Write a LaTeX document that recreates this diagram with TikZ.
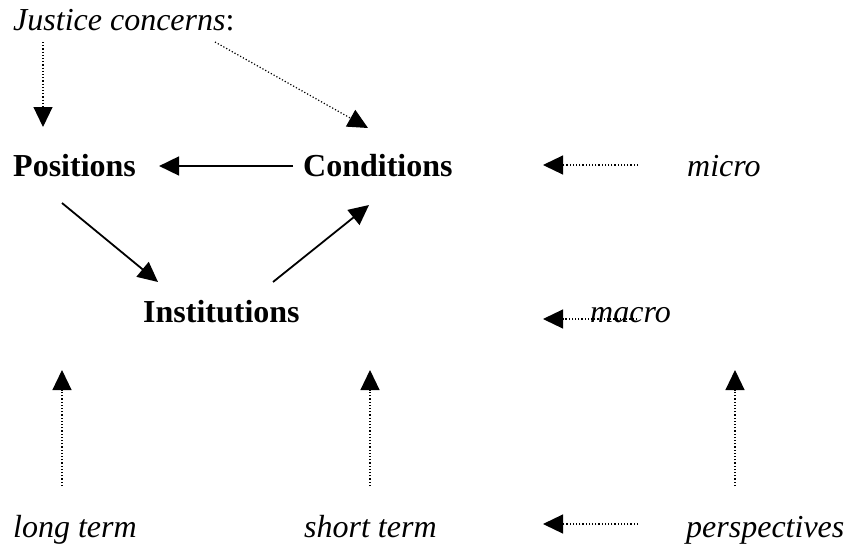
\documentclass[tikz,border=0pt]{standalone}
\usepackage{fontspec}
\setmainfont{Liberation Serif}
\usetikzlibrary{arrows.meta}

\begin{document}
\begin{tikzpicture}[x=1pt,y=-1pt,
  lbl/.style={inner sep=0pt,anchor=base west,font=\fontsize{32}{38}\selectfont},
  key/.style={lbl,font=\fontsize{32}{38}\selectfont\bfseries},
  note/.style={lbl,font=\fontsize{32}{38}\selectfont\itshape},
  flow/.style={line width=1.8pt,-{Triangle[length=20pt,width=19pt]}},
  hint/.style={line width=1.2pt,dotted,-{Triangle[length=20pt,width=19pt]}}]
\useasboundingbox (0,0) rectangle (848,546);

% Concerns and the three terms
\node[lbl] (just) at (13,30) {\textit{Justice concerns}:};
\node[key] (pos) at (13,176) {Positions};
\node[key] (cond) at (303,176) {Conditions};
\node[key] (inst) at (143,322) {Institutions};

% Levels
\node[note] (micro) at (687,176) {micro};
\node[note] (macro) at (590,322) {macro};

% Time and perspective
\node[note] (long) at (13,537) {long term};
\node[note] (short) at (304,537) {short term};
\node[note] (persp) at (686,537) {perspectives};

% Concern arrows
\draw[hint] ([shift={(30,12)}]just.base west) -- ([shift={(30,-49)}]pos.base west);
\draw[hint] ([shift={(202,12)}]just.base west) -- ([shift={(65,-48)}]cond.base west);

% Cycle
\draw[flow] ([shift={(-10,-10)}]cond.base west) -- ([shift={(23,-10)}]pos.base east);
\draw[flow] ([shift={(49,27)}]pos.base west) -- ([shift={(15,-40)}]inst.base west);
\draw[flow] ([shift={(130,-40)}]inst.base west) -- ([shift={(66,29)}]cond.base west);

% Level arrows
\draw[hint] ([shift={(-49,-11)}]micro.base west) -- ([shift={(-144,-11)}]micro.base west);
\draw[hint] ([shift={(47,-3)}]macro.base west) -- ([shift={(-47,-3)}]macro.base west);

% Upward arrows
\draw[hint] ([shift={(49,-51)}]long.base west) -- ([shift={(49,-167)}]long.base west);
\draw[hint] ([shift={(66,-51)}]short.base west) -- ([shift={(66,-167)}]short.base west);
\draw[hint] ([shift={(49,-51)}]persp.base west) -- ([shift={(49,-167)}]persp.base west);
\draw[hint] ([shift={(-48,-13)}]persp.base west) -- ([shift={(-143,-13)}]persp.base west);
\end{tikzpicture}
\end{document}
